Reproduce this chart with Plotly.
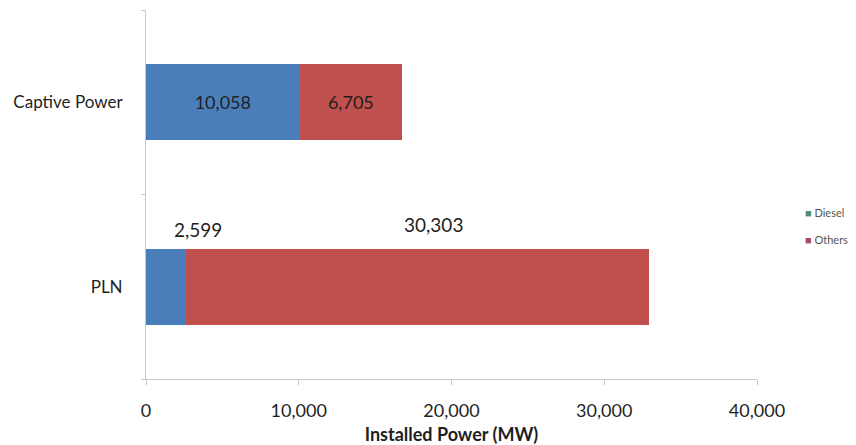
import plotly.graph_objects as go

categories = ["PLN", "Captive Power"]
diesel = [2599, 10058]
others = [30303, 6705]
series_names = ["Diesel", "Others"]
x_ticks = [0, 10000, 20000, 30000, 40000]

bar_colors = ["#4a7ebb", "#c0504d"]
legend_colors = ["#4a8c78", "#a8485e"]

def fmt(v):
    return f"{v:,}"

fig = go.Figure()
fig.add_trace(go.Bar(
    y=categories, x=diesel, orientation="h", name=series_names[0],
    marker=dict(color=bar_colors[0], line=dict(width=0)),
    text=["" if c == "PLN" else fmt(v) for c, v in zip(categories, diesel)],
    textposition="inside", insidetextanchor="middle",
    textfont=dict(color="#1f1f1f", size=18, family="Lato"),
    showlegend=False, width=0.41,
))
fig.add_trace(go.Bar(
    y=categories, x=others, orientation="h", name=series_names[1],
    marker=dict(color=bar_colors[1], line=dict(width=0)),
    text=["" if c == "PLN" else fmt(v) for c, v in zip(categories, others)],
    textposition="inside", insidetextanchor="middle",
    textfont=dict(color="#1f1f1f", size=18, family="Lato"),
    showlegend=False, width=0.41,
))

# legend drawn as compact annotations (marker + label)
legend_y = [0.45, 0.377]
for name, col, ly in zip(series_names, legend_colors, legend_y):
    fig.add_annotation(
        xref="paper", yref="paper", x=1.075, y=ly, xanchor="left", yanchor="middle",
        text=f'<span style="color:{col}">■</span> {name}', showarrow=False,
        font=dict(size=11, color="#555555", family="Lato"),
    )

# PLN labels above bar
i = categories.index("PLN")
fig.add_annotation(x=diesel[i] / 2, y="PLN", text=fmt(diesel[i]), showarrow=False,
                   xshift=32, yshift=57, font=dict(size=19, color="#1f1f1f", family="Lato"))
fig.add_annotation(x=diesel[i] + others[i] / 2, y="PLN", text=fmt(others[i]), showarrow=False,
                   xshift=16, yshift=62, font=dict(size=19, color="#1f1f1f", family="Lato"))

fig.update_layout(
    width=856, height=445,
    margin=dict(l=146, r=99, t=10, b=66, autoexpand=False),
    barmode="stack", showlegend=False,
    paper_bgcolor="white", plot_bgcolor="white",
    font=dict(family="Lato", color="#1f1f1f"),
)
fig.update_xaxes(
    range=[0, 40000], tickvals=x_ticks, ticktext=[fmt(v) for v in x_ticks],
    showgrid=False, zeroline=False, showline=True, linecolor="#c8c8c8", linewidth=1,
    ticks="outside", ticklen=5, tickcolor="#c8c8c8", ticklabelstandoff=10,
    tickfont=dict(size=18, color="#1f1f1f"),
    title=dict(text="<b>Installed Power (MW)</b>", font=dict(size=18, color="#1f1f1f"), standoff=9),
)
fig.update_yaxes(
    type="category", categoryorder="array", categoryarray=categories,
    showgrid=False, zeroline=False, showline=True, linecolor="#c8c8c8", linewidth=1,
    ticks="outside", ticklen=4, tickcolor="#c8c8c8", tickson="boundaries",
    ticklabelstandoff=19,
    tickfont=dict(size=17, color="#1f1f1f"),
)

fig.write_html("out.html")
